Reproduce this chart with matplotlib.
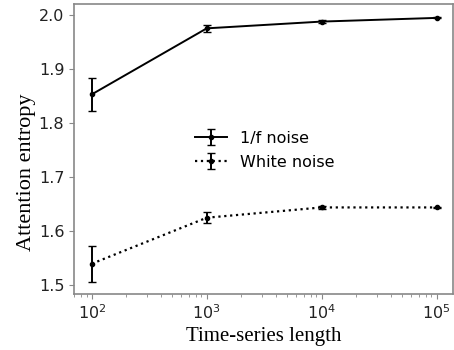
import matplotlib
matplotlib.use("Agg")
import matplotlib.pyplot as plt

lengths = [1e2, 1e3, 1e4, 1e5]
pink_mean = [1.853, 1.975, 1.9875, 1.9943]
pink_err = [0.030, 0.006, 0.002, 0.001]
white_mean = [1.540, 1.625, 1.644, 1.644]
white_err = [0.033, 0.010, 0.002, 0.001]
series_labels = ["1/f noise", "White noise"]

fig = plt.figure(figsize=(4.54, 3.5), dpi=100)
ax = fig.add_axes([0.163, 0.16, 0.835, 0.8286])

ax.errorbar(lengths, pink_mean, yerr=pink_err, color="black", linestyle="-",
            marker="o", markersize=3, linewidth=1.4, capsize=3, elinewidth=1.4,
            label=series_labels[0])
ax.errorbar(lengths, white_mean, yerr=white_err, color="black", linestyle=":",
            marker="o", markersize=3, linewidth=1.6, capsize=3, elinewidth=1.4,
            label=series_labels[1])

ax.set_xscale("log")
ax.set_xlim(70, 1.39e5)
ax.set_ylim(1.484, 2.02)
ax.set_yticks([1.5, 1.6, 1.7, 1.8, 1.9, 2.0])
ax.set_yticklabels(["1.5", "1.6", "1.7", "1.8", "1.9", "2.0"])

for s in ax.spines.values():
    s.set_color("#888888")
    s.set_linewidth(1.2)
ax.tick_params(axis="both", which="both", colors="#888888", labelcolor="#222222",
               labelsize=11.5)
ax.tick_params(axis="both", which="major", length=3.5)
ax.tick_params(axis="x", which="minor", length=2)

ax.set_xlabel("Time-series length", family="Liberation Serif", fontsize=15)
ax.xaxis.set_label_coords(0.5, -0.114)
ax.set_ylabel("Attention entropy", family="Liberation Serif", fontsize=16)
ax.yaxis.set_label_coords(-0.101, 0.42)

ax.legend(loc="center", bbox_to_anchor=(0.503, 0.496), frameon=False, fontsize=11.5,
          handlelength=2.0, handletextpad=0.8, labelspacing=0.55)

fig.savefig("out.png", dpi=100)
